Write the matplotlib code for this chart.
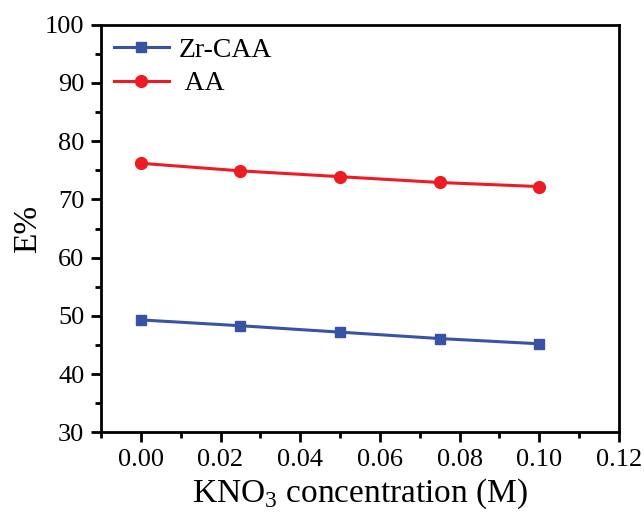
import matplotlib
matplotlib.use("Agg")
import matplotlib.pyplot as plt
from matplotlib.ticker import MultipleLocator

# data
kno3 = [0.0, 0.025, 0.05, 0.075, 0.1]
zr_caa = [49.3, 48.3, 47.2, 46.1, 45.2]
aa = [76.2, 74.9, 73.9, 72.9, 72.2]

plt.rcParams['font.family'] = ['Liberation Serif', 'DejaVu Serif']
plt.rcParams['mathtext.fontset'] = 'custom'
plt.rcParams['mathtext.rm'] = 'Liberation Serif'

fig = plt.figure(figsize=(6.44, 5.14), dpi=100)
ax = fig.add_axes([101 / 644, 1 - 432.3 / 514, 518 / 644, 407.6 / 514])

ax.plot(kno3, zr_caa, color='#3953a4', marker='s', markersize=7.5, lw=2.2, label='Zr-CAA')
ax.plot(kno3, aa, color='#ed1c24', marker='o', markersize=8.5, lw=2.2, label=' AA')

ax.set_xlim(-0.01, 0.12)
ax.set_ylim(30, 100)
ax.xaxis.set_minor_locator(MultipleLocator(0.01))
ax.yaxis.set_major_locator(MultipleLocator(10))
ax.yaxis.set_minor_locator(MultipleLocator(5))
ax.set_xticks([0, 0.02, 0.04, 0.06, 0.08, 0.10, 0.12])
ax.set_xticklabels(['0.00', '0.02', '0.04', '0.06', '0.08', '0.10', '0.12'])

for sp in ax.spines.values():
    sp.set_linewidth(2)
ax.tick_params(which='major', direction='out', length=7, width=2, labelsize=19, pad=5)
ax.tick_params(which='minor', direction='out', length=4, width=2)

ax.set_xlabel('KNO$_\\mathregular{3}$ concentration (M)', fontsize=24, labelpad=4)
ax.set_ylabel('E%', fontsize=24, labelpad=1)

ax.legend(loc='upper left', frameon=False, fontsize=20, handlelength=2.0,
          handletextpad=0.35, borderaxespad=0.05, labelspacing=0.3)

fig.savefig('out.png', dpi=100)
